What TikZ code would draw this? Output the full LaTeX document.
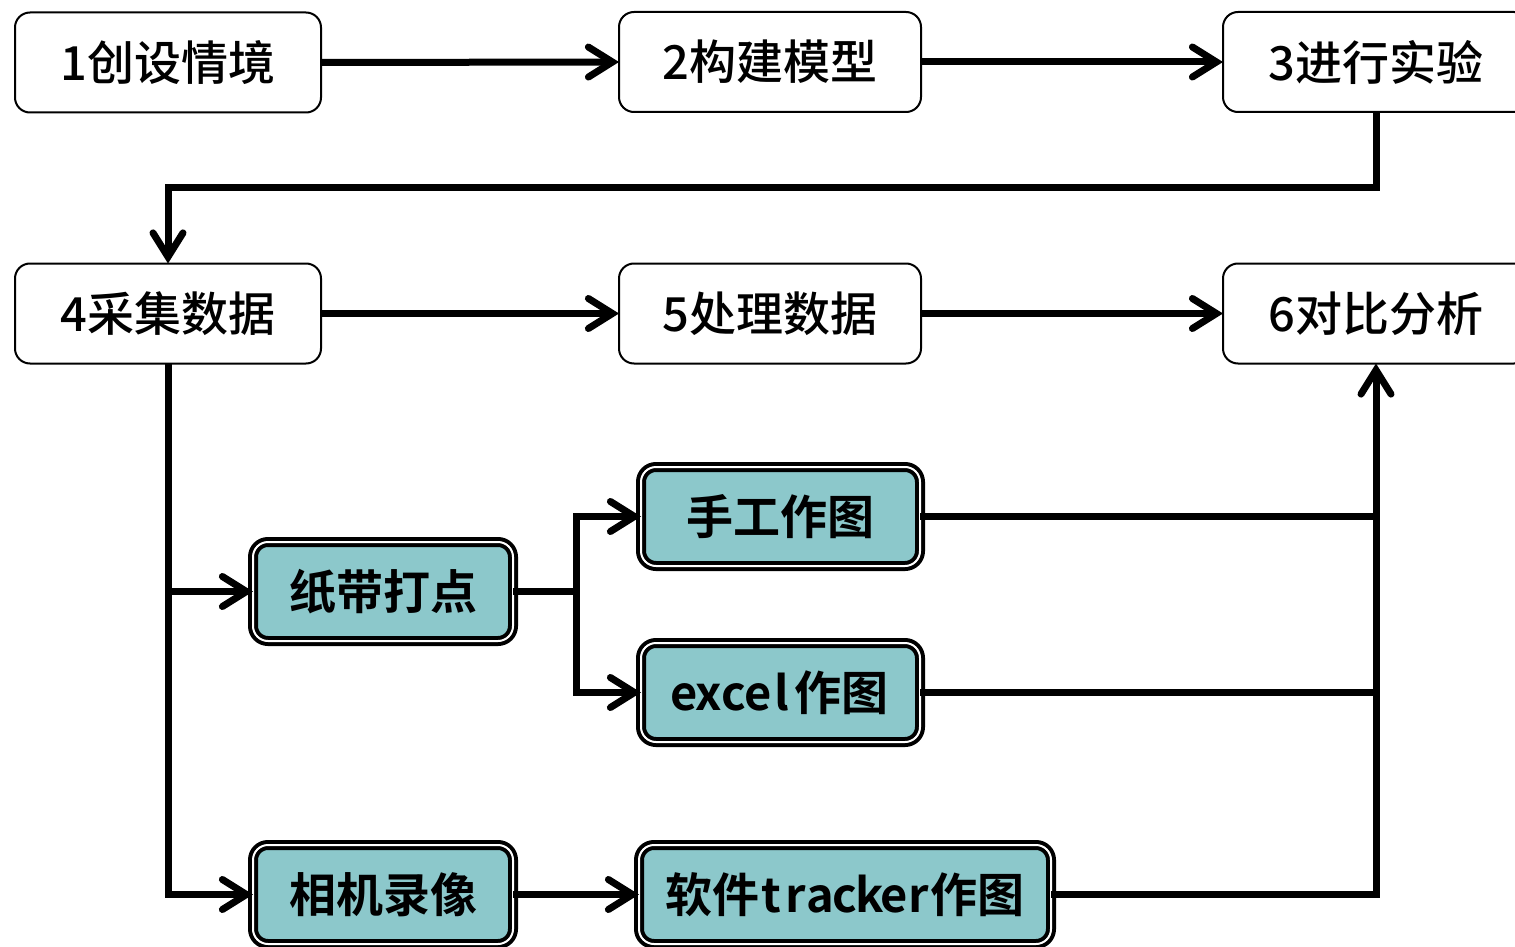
\documentclass[tikz,border=0pt]{standalone}
\usepackage{fontspec}
\usetikzlibrary{arrows.meta}
\newfontfamily\cjk{Noto Sans CJK SC Medium}[BoldFont={Noto Sans CJK SC Bold}]
\definecolor{tealfill}{RGB}{140,200,203}
\def\hw#1{\hwi#1\relax}
\def\hwi#1{\ifx#1\relax\else\makebox[.52em]{#1}\expandafter\hwi\fi}
\tikzset{
  plainbox/.style={draw=black, line width=2pt, rounded corners=15pt, fill=white,
    minimum width=306pt, minimum height=100pt, inner sep=0pt, outer sep=0pt,
    font=\cjk\fontsize{47}{52}\selectfont},
  tealbox/.style={draw=black, line width=4pt, double=white, double distance=2pt,
    rounded corners=15pt, fill=tealfill, minimum height=99pt, inner sep=0pt, outer sep=0pt,
    font=\cjk\bfseries\fontsize{47}{52}\selectfont},
  conn/.style={line width=7pt, draw=black},
  arr/.style={conn, -{Straight Barb[length=24pt,width=30pt,line width=7pt,line cap=round,line join=miter]}}
}
\begin{document}
\begin{tikzpicture}[x=1pt,y=-1pt]
\clip (0,0) rectangle (1515,947);
\fill[white] (0,0) rectangle (1515,947);
% top row
\node[plainbox] (b1) at (168,62.5) {\raisebox{-3pt}{1创设情境}};
\node[plainbox, minimum width=302pt] (b2) at (770,62) {\raisebox{-3pt}{2构建模型}};
\node[plainbox] (b3) at (1376,62) {\raisebox{-3pt}{3进行实验}};
% second row
\node[plainbox] (b4) at (168,313.5) {\raisebox{-3pt}{4采集数据}};
\node[plainbox, minimum width=302pt] (b5) at (770,313.5) {\raisebox{-3pt}{5处理数据}};
\node[plainbox] (b6) at (1376,313.5) {\raisebox{-3pt}{6对比分析}};
% teal boxes
\node[tealbox, minimum width=260pt] (zd) at (383,591.5) {纸带打点};
\node[tealbox, minimum width=279pt] (sg) at (780.5,516.5) {手工作图};
\node[tealbox, minimum width=279pt] (ex) at (780.5,692.5) {\hw{excel}作图};
\node[tealbox, minimum width=260pt] (xj) at (383,894.5) {相机录像};
\node[tealbox, minimum width=412pt] (tr) at (845,894.5) {软件\hw{tracker}作图};
% coordinates
\coordinate (c1) at (770,187);
\coordinate (j1) at (576,591.5);
% connectors
\draw[arr] (b1.east) -- (b2.west);
\draw[arr] (b2.east) -- (b3.west);
\draw[arr] (b3.south) |- (c1) -| (b4.north);
\draw[arr] (b4.east) -- (b5.west);
\draw[arr] (b5.east) -- (b6.west);
\draw[arr] (b4.south) |- (zd.west);
\draw[arr] (b4.south) |- (xj.west);
\draw[conn] (zd.east) -- (j1);
\draw[arr] (j1) |- (sg.west);
\draw[arr] (j1) |- (ex.west);
\draw[arr] (xj.east) -- (tr.west);
\draw[conn] (sg.east) -- (sg.east -| b6.south);
\draw[conn] (ex.east) -- (ex.east -| b6.south);
\draw[arr] (tr.east) -| (b6.south);
\end{tikzpicture}
\end{document}
